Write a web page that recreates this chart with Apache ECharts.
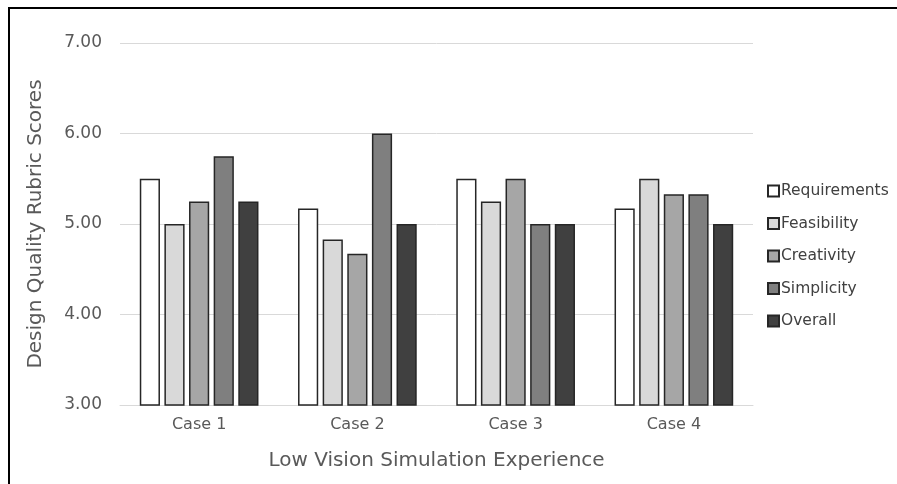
<!DOCTYPE html>
<html>
<head>
<meta charset="utf-8">
<script src="https://cdn.jsdelivr.net/npm/echarts@6/dist/echarts.min.js"></script>
<style>
  html, body { margin: 0; padding: 0; background: #fff; }
  #main { width: 897px; height: 484px; }
</style>
</head>
<body>
<div id="main"></div>
<script>
var cases = ['Case 1', 'Case 2', 'Case 3', 'Case 4'];
var seriesNames = ['Requirements', 'Feasibility', 'Creativity', 'Simplicity', 'Overall'];
var requirements = [5.50, 5.17, 5.50, 5.17];
var feasibility = [5.00, 4.83, 5.25, 5.50];
var creativity = [5.25, 4.67, 5.50, 5.33];
var simplicity = [5.75, 6.00, 5.00, 5.33];
var overall = [5.25, 5.00, 5.00, 5.00];
var barColors = ['#ffffff', '#d9d9d9', '#a6a6a6', '#7f7f7f', '#404040'];

var allData = [requirements, feasibility, creativity, simplicity, overall];
var font = 'DejaVu Sans';

var chart = echarts.init(document.getElementById('main'));
var series = [];
for (var i = 0; i < seriesNames.length; i++) {
  series.push({
    name: seriesNames[i],
    type: 'bar',
    barGap: '22%',
    barCategoryGap: '25%',
    itemStyle: {
      color: barColors[i],
      borderColor: '#262626',
      borderWidth: 1.5
    },
    data: allData[i]
  });
}

var option = {
  animation: false,
  textStyle: { fontFamily: font },
  graphic: [{
    type: 'rect',
    shape: { x: 9, y: 8, width: 1000, height: 1000 },
    style: { fill: 'none', stroke: '#000', lineWidth: 2 },
    silent: true
  }],
  grid: {
    left: 120,
    right: 144,
    top: 43,
    bottom: 79
  },
  legend: {
    orient: 'vertical',
    left: 762,
    top: 178,
    itemWidth: 11,
    itemHeight: 11,
    itemGap: 16.5,
    icon: 'rect',
    textStyle: { color: '#404040', fontSize: 15.5, fontFamily: font, padding: [0, 0, 0, -3] },
    data: seriesNames
  },
  xAxis: {
    type: 'category',
    data: cases,
    name: 'Low Vision Simulation Experience',
    nameLocation: 'middle',
    nameGap: 46,
    nameTextStyle: { color: '#595959', fontSize: 20, fontFamily: font },
    axisLine: { lineStyle: { color: '#d9d9d9', width: 1 } },
    axisTick: { show: false },
    axisLabel: { color: '#595959', fontSize: 16, margin: 12, fontFamily: font }
  },
  yAxis: {
    type: 'value',
    min: 3,
    max: 7,
    interval: 1,
    name: 'Design Quality Rubric Scores',
    nameLocation: 'middle',
    nameGap: 74,
    nameTextStyle: { color: '#595959', fontSize: 20, fontFamily: font },
    axisLine: { show: false },
    axisTick: { show: false },
    axisLabel: {
      color: '#595959',
      fontSize: 17,
      margin: 18,
      fontFamily: font,
      formatter: function (v) { return v.toFixed(2); }
    },
    splitLine: { lineStyle: { color: '#d9d9d9', width: 1 } }
  },
  series: series
};
chart.setOption(option);
</script>
</body>
</html>
